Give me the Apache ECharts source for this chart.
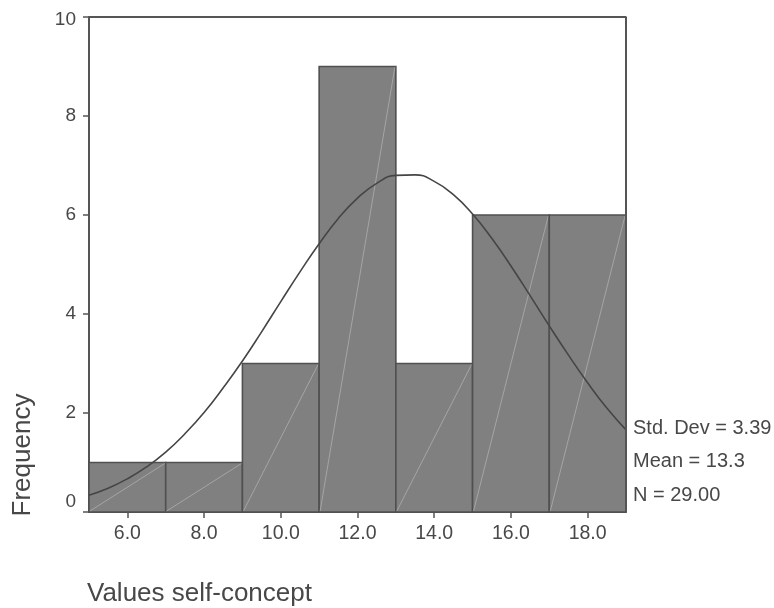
<!DOCTYPE html>
<html>
<head>
<meta charset="utf-8">
<script src="https://cdn.jsdelivr.net/npm/echarts@6/dist/echarts.min.js"></script>
<style>
  html, body { margin: 0; padding: 0; background: #fff; }
  #chart { width: 774px; height: 608px; }
</style>
</head>
<body>
<div id="chart"></div>
<script>
// Histogram bins of the self-concept values (bin start, bin end, count)
const binStarts = [5, 7, 9, 11, 13, 15, 17];
const binEnds   = [7, 9, 11, 13, 15, 17, 19];
const counts    = [1, 1, 3, 9, 3, 6, 6];

// Fitted normal curve (expected frequency per bin width)
const curveX = [5, 5.5, 6, 6.5, 7, 7.5, 8, 8.5, 9, 9.5, 10, 10.5, 11, 11.5, 12,
                12.5, 13, 13.5, 14, 14.5, 15, 15.5, 16, 16.5, 17, 17.5, 18, 18.5, 19];
const curveY = [0.34, 0.48, 0.67, 0.91, 1.21, 1.58, 2.01, 2.51, 3.05, 3.64, 4.25,
                4.85, 5.42, 5.93, 6.34, 6.64, 6.80, 6.81, 6.68, 6.41, 6.02, 5.53,
                4.97, 4.37, 3.76, 3.17, 2.61, 2.10, 1.66];

// Axis ticks
const xTicks = [6, 8, 10, 12, 14, 16, 18];
const yTicks = [0, 2, 4, 6, 8, 10];

// Summary statistics
const statLines = ['Std. Dev = 3.39', 'Mean = 13.3', 'N = 29.00'];

const FONT = '"Liberation Sans", Arial, sans-serif';
const TEXT = '#484848';
const LINE = '#555';

const chart = echarts.init(document.getElementById('chart'), null, { renderer: 'canvas' });

const barData = binStarts.map((s, i) => [s, binEnds[i], counts[i]]);
const curveData = curveX.map((x, i) => [x, curveY[i]]);
const yMin = yTicks[0];
const yMax = yTicks[yTicks.length - 1];

chart.setOption({
  animation: false,
  backgroundColor: '#fff',
  grid: { left: 89, right: 148, top: 17, bottom: 96, show: false },
  xAxis: {
    type: 'value', min: 5, max: 19,
    axisLine: { show: true, onZero: false, lineStyle: { color: LINE, width: 2 } },
    axisTick: { show: true, length: 6, customValues: xTicks, lineStyle: { color: LINE, width: 1.5 } },
    axisLabel: {
      customValues: xTicks, margin: 12, color: TEXT, fontSize: 19.5, fontFamily: FONT,
      formatter: v => Number(v).toFixed(1)
    },
    splitLine: { show: false }
  },
  yAxis: {
    type: 'value', min: yMin, max: yMax, interval: 2,
    axisLine: { show: true, lineStyle: { color: LINE, width: 2 } },
    axisTick: { show: true, length: 6, lineStyle: { color: LINE, width: 1.5 } },
    axisLabel: {
      margin: 13, color: TEXT, fontSize: 19, fontFamily: FONT,
      // end labels are nudged inward, away from the corners
      formatter: v => (v === yMin ? '{lo|' + v + '}' : v === yMax ? '{hi|' + v + '}' : String(v)),
      rich: {
        lo: { color: TEXT, fontSize: 19, fontFamily: FONT, padding: [0, 0, 20, 0] },
        hi: { color: TEXT, fontSize: 19, fontFamily: FONT, padding: [6, 0, 0, 0] }
      }
    },
    splitLine: { show: false }
  },
  series: [
    {
      type: 'custom',
      data: barData,
      encode: { x: [0, 1], y: 2 },
      clip: false,
      renderItem: function (params, api) {
        const p0 = api.coord([api.value(0), 0]);
        const p1 = api.coord([api.value(1), api.value(2)]);
        return {
          type: 'group',
          children: [
            {
              type: 'rect',
              shape: { x: p0[0], y: p1[1], width: p1[0] - p0[0], height: p0[1] - p1[1] },
              style: { fill: '#808080', stroke: '#505050', lineWidth: 1.6 }
            },
            {
              type: 'line',
              shape: { x1: p0[0] + 1, y1: p0[1] - 1, x2: p1[0] - 1, y2: p1[1] + 1 },
              style: { stroke: '#b4b4b4', lineWidth: 0.7 }
            }
          ]
        };
      },
      z: 2
    },
    {
      type: 'line',
      data: curveData,
      smooth: true,
      symbol: 'none',
      lineStyle: { color: '#454545', width: 1.6 },
      z: 3
    },
    {
      // top and right frame of the plot area
      type: 'line',
      data: [[5, 10], [19, 10], [19, 0]],
      symbol: 'none',
      lineStyle: { color: LINE, width: 2 },
      silent: true,
      z: 4
    }
  ],
  graphic: [
    {
      type: 'text', silent: true, x: 633, y: 428,
      style: { text: statLines[0], fill: TEXT, font: '20px ' + FONT, verticalAlign: 'middle' }
    },
    {
      type: 'text', silent: true, x: 633, y: 461,
      style: { text: statLines[1], fill: TEXT, font: '20px ' + FONT, verticalAlign: 'middle' }
    },
    {
      type: 'text', silent: true, x: 633, y: 495,
      style: { text: statLines[2], fill: TEXT, font: '20px ' + FONT, verticalAlign: 'middle' }
    },
    {
      type: 'text', silent: true, x: 23, y: 455, rotation: Math.PI / 2,
      style: { text: 'Frequency', fill: TEXT, font: '26px ' + FONT, align: 'center', verticalAlign: 'middle' }
    },
    {
      type: 'text', silent: true, x: 87, y: 594,
      style: { text: 'Values self-concept', fill: TEXT, font: '26px ' + FONT, align: 'left', verticalAlign: 'middle' }
    }
  ]
});
</script>
</body>
</html>
